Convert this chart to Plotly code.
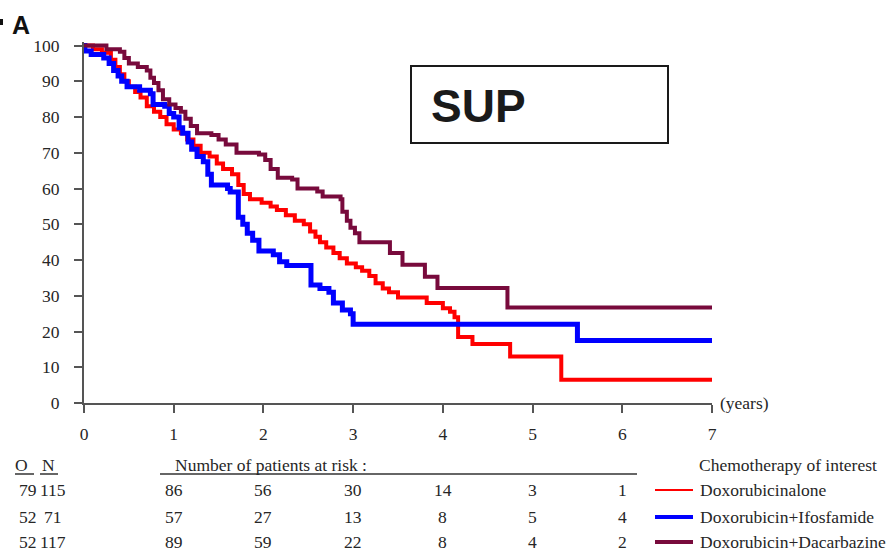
import plotly.graph_objects as go

# ---- survival curves (years, % surviving) ----
groups = ["Doxorubicinalone", "Doxorubicin+Ifosfamide", "Doxorubicin+Dacarbazine"]
colors = ["#ff0000", "#0000ff", "#780a3c"]
widths = [4, 5, 4]
key_widths = [2, 4, 4]

t_alone = [0, 0.1, 0.2, 0.3, 0.35, 0.4, 0.45, 0.5, 0.57, 0.63, 0.7, 0.78, 0.85, 0.92,
           1.0, 1.08, 1.15, 1.22, 1.3, 1.4, 1.48, 1.55, 1.65, 1.72, 1.78, 1.85, 1.98,
           2.08, 2.15, 2.25, 2.35, 2.45, 2.52, 2.58, 2.63, 2.7, 2.78, 2.85, 2.93, 3.03,
           3.1, 3.18, 3.25, 3.33, 3.4, 3.5, 3.82, 4.0, 4.08, 4.13, 4.17, 4.33, 4.75,
           5.32, 7.0]
s_alone = [100, 99, 98, 96, 94, 92, 90, 88.5, 87, 85.5, 83, 81.5, 80, 78,
           76.5, 75.5, 73.7, 72, 70, 69, 67, 65.5, 64, 61, 58.5, 57, 56,
           55, 54, 52.5, 51, 50, 48, 46.5, 45, 43.5, 42, 40.5, 39, 38,
           37, 35.5, 33.5, 32, 31, 29.5, 28, 26.5, 25.5, 24, 18.5, 16.5, 13,
           6.5, 6.5]

t_ifos = [0, 0.01, 0.08, 0.22, 0.28, 0.33, 0.38, 0.42, 0.48, 0.62, 0.74, 0.77, 0.9,
          0.95, 1.0, 1.06, 1.1, 1.16, 1.2, 1.26, 1.33, 1.38, 1.42, 1.6, 1.63, 1.72,
          1.77, 1.82, 1.88, 1.95, 2.11, 2.18, 2.26, 2.53, 2.63, 2.73, 2.78, 2.88,
          2.97, 3.0, 5.5, 7.0]
s_ifos = [100, 98.5, 97.5, 96.5, 95, 93, 91.5, 90, 88.5, 87.5, 86.5, 83.5, 83,
          81, 80, 77, 75.5, 73, 71, 69, 67.5, 64, 61, 60, 59, 52,
          50, 47.5, 45.5, 42.5, 41.5, 39.5, 38.5, 33, 32, 31, 28, 26,
          25, 22, 17.5, 17.5]

t_dacar = [0, 0.25, 0.4, 0.45, 0.5, 0.6, 0.7, 0.74, 0.78, 0.83, 0.88, 0.95, 1.02,
           1.08, 1.13, 1.19, 1.26, 1.42, 1.5, 1.58, 1.7, 1.95, 2.02, 2.08, 2.16,
           2.32, 2.38, 2.6, 2.66, 2.86, 2.88, 2.93, 2.97, 3.02, 3.07, 3.41, 3.55,
           3.8, 3.94, 4.72, 7.0]
s_dacar = [100, 99, 98.3, 96.5, 95, 94, 93, 91, 89.5, 87.5, 85, 83.5, 82.5,
           81.5, 79.5, 77.5, 75.5, 75, 73.7, 72.3, 70, 69.5, 68, 65.5, 63,
           62.5, 60, 59.2, 57.8, 57, 53.5, 51, 49, 47.5, 45, 42, 38.7,
           35.3, 32.2, 26.7, 26.7]

curves = [(t_alone, s_alone), (t_ifos, s_ifos), (t_dacar, s_dacar)]

# ---- axis ticks ----
x_ticks = [0, 1, 2, 3, 4, 5, 6, 7]
y_ticks = [0, 10, 20, 30, 40, 50, 60, 70, 80, 90, 100]

# ---- risk table ----
observed = [79, 52, 52]
n_total = [115, 71, 117]
risk_times = [1, 2, 3, 4, 5, 6]
at_risk = [
    [86, 56, 30, 14, 3, 1],
    [57, 27, 13, 8, 5, 4],
    [89, 59, 22, 8, 4, 2],
]

# plot-area geometry in pixels
W, H = 892, 552
PL, PR, PT, PB = 84, 712, 42, 403


def px_x(px):
    return (px - PL) / (PR - PL)


def px_y(py):
    return (PB - py) / (PB - PT)


SERIF = "Liberation Serif, Times New Roman, serif"
TXT = "#262626"
FS = 17.5


def label(text, x, y, xref="paper", xanchor="left", size=FS, family=SERIF, color=TXT):
    return dict(text=text, x=x, y=y, xref=xref, yref="paper", showarrow=False,
                xanchor=xanchor, yanchor="middle", borderpad=0,
                font=dict(family=family, size=size, color=color))


fig = go.Figure()
for (t, s), name, c, w in zip(curves, groups, colors, widths):
    fig.add_trace(go.Scatter(x=t, y=s, mode="lines", name=name,
                             line=dict(color=c, width=w, shape="hv"),
                             showlegend=False, hoverinfo="skip"))

ann = []
shapes = []

# panel letter
ann.append(label("<b>A</b>", px_x(11), px_y(25), size=25,
                 family="Liberation Sans Narrow, Arial Narrow, Liberation Sans", color="#111"))
shapes.append(dict(type="rect", xref="paper", yref="paper",
                   x0=px_x(0), x1=px_x(3), y0=px_y(19), y1=px_y(25),
                   fillcolor="#111", line=dict(width=0)))

# SUP box
shapes.append(dict(type="rect", xref="paper", yref="paper",
                   x0=px_x(411), x1=px_x(668), y0=px_y(143), y1=px_y(66),
                   line=dict(color="#1a1a1a", width=2), fillcolor="white"))
ann.append(label("<b>SUP</b>", px_x(430), px_y(106), size=46,
                 family="Liberation Sans, Arial, sans-serif", color="#1a1a1a"))

# axis unit
ann.append(dict(text="(years)", x=7, y=0, xref="x", yref="y", xshift=6,
                showarrow=False, xanchor="left", yanchor="middle",
                font=dict(family=SERIF, size=FS, color=TXT)))

# risk table header
hy = 465
ann.append(label("O", px_x(21), px_y(hy), xanchor="center"))
ann.append(label("N", px_x(48), px_y(hy), xanchor="center"))
ann.append(label("Number of patients at risk :", px_x(174), px_y(hy)))
ann.append(label("Chemotherapy of interest", px_x(698), px_y(hy)))
for x0, x1 in [(15, 34), (40, 58), (160, 637)]:
    shapes.append(dict(type="line", xref="paper", yref="paper",
                       x0=px_x(x0), x1=px_x(x1), y0=px_y(474), y1=px_y(474),
                       line=dict(color="#333", width=1.5)))

row_y = [490, 517, 542]
for i, ry in enumerate(row_y):
    ann.append(label(str(observed[i]), px_x(28), px_y(ry), xanchor="center"))
    ann.append(label(str(n_total[i]), px_x(53), px_y(ry), xanchor="center"))
    for tx, v in zip(risk_times, at_risk[i]):
        ann.append(label(str(v), tx, px_y(ry), xref="x", xanchor="center"))
    # legend key
    shapes.append(dict(type="line", xref="paper", yref="paper",
                       x0=px_x(655), x1=px_x(693), y0=px_y(ry), y1=px_y(ry),
                       line=dict(color=colors[i], width=key_widths[i])))
    ann.append(label(groups[i], px_x(699), px_y(ry)))

fig.update_layout(
    width=W, height=H,
    margin=dict(l=PL, r=W - PR, t=PT, b=H - PB, pad=0),
    paper_bgcolor="white", plot_bgcolor="white",
    annotations=ann, shapes=shapes,
    xaxis=dict(range=[0, 7], tickvals=x_ticks, ticktext=[str(v) for v in x_ticks],
               showgrid=False, zeroline=False, showline=True, linecolor="#555", linewidth=2,
               ticks="outside", ticklen=8, tickwidth=2, tickcolor="#555",
               tickfont=dict(family=SERIF, size=FS, color=TXT), ticklabelstandoff=6),
    yaxis=dict(range=[0, 101], tickvals=y_ticks, ticktext=[str(v) for v in y_ticks],
               showgrid=False, zeroline=False, showline=True, linecolor="#555", linewidth=2,
               ticks="outside", ticklen=8, tickwidth=2, tickcolor="#555",
               tickfont=dict(family=SERIF, size=FS, color=TXT), ticklabelstandoff=11),
)

fig.write_html("out.html")
